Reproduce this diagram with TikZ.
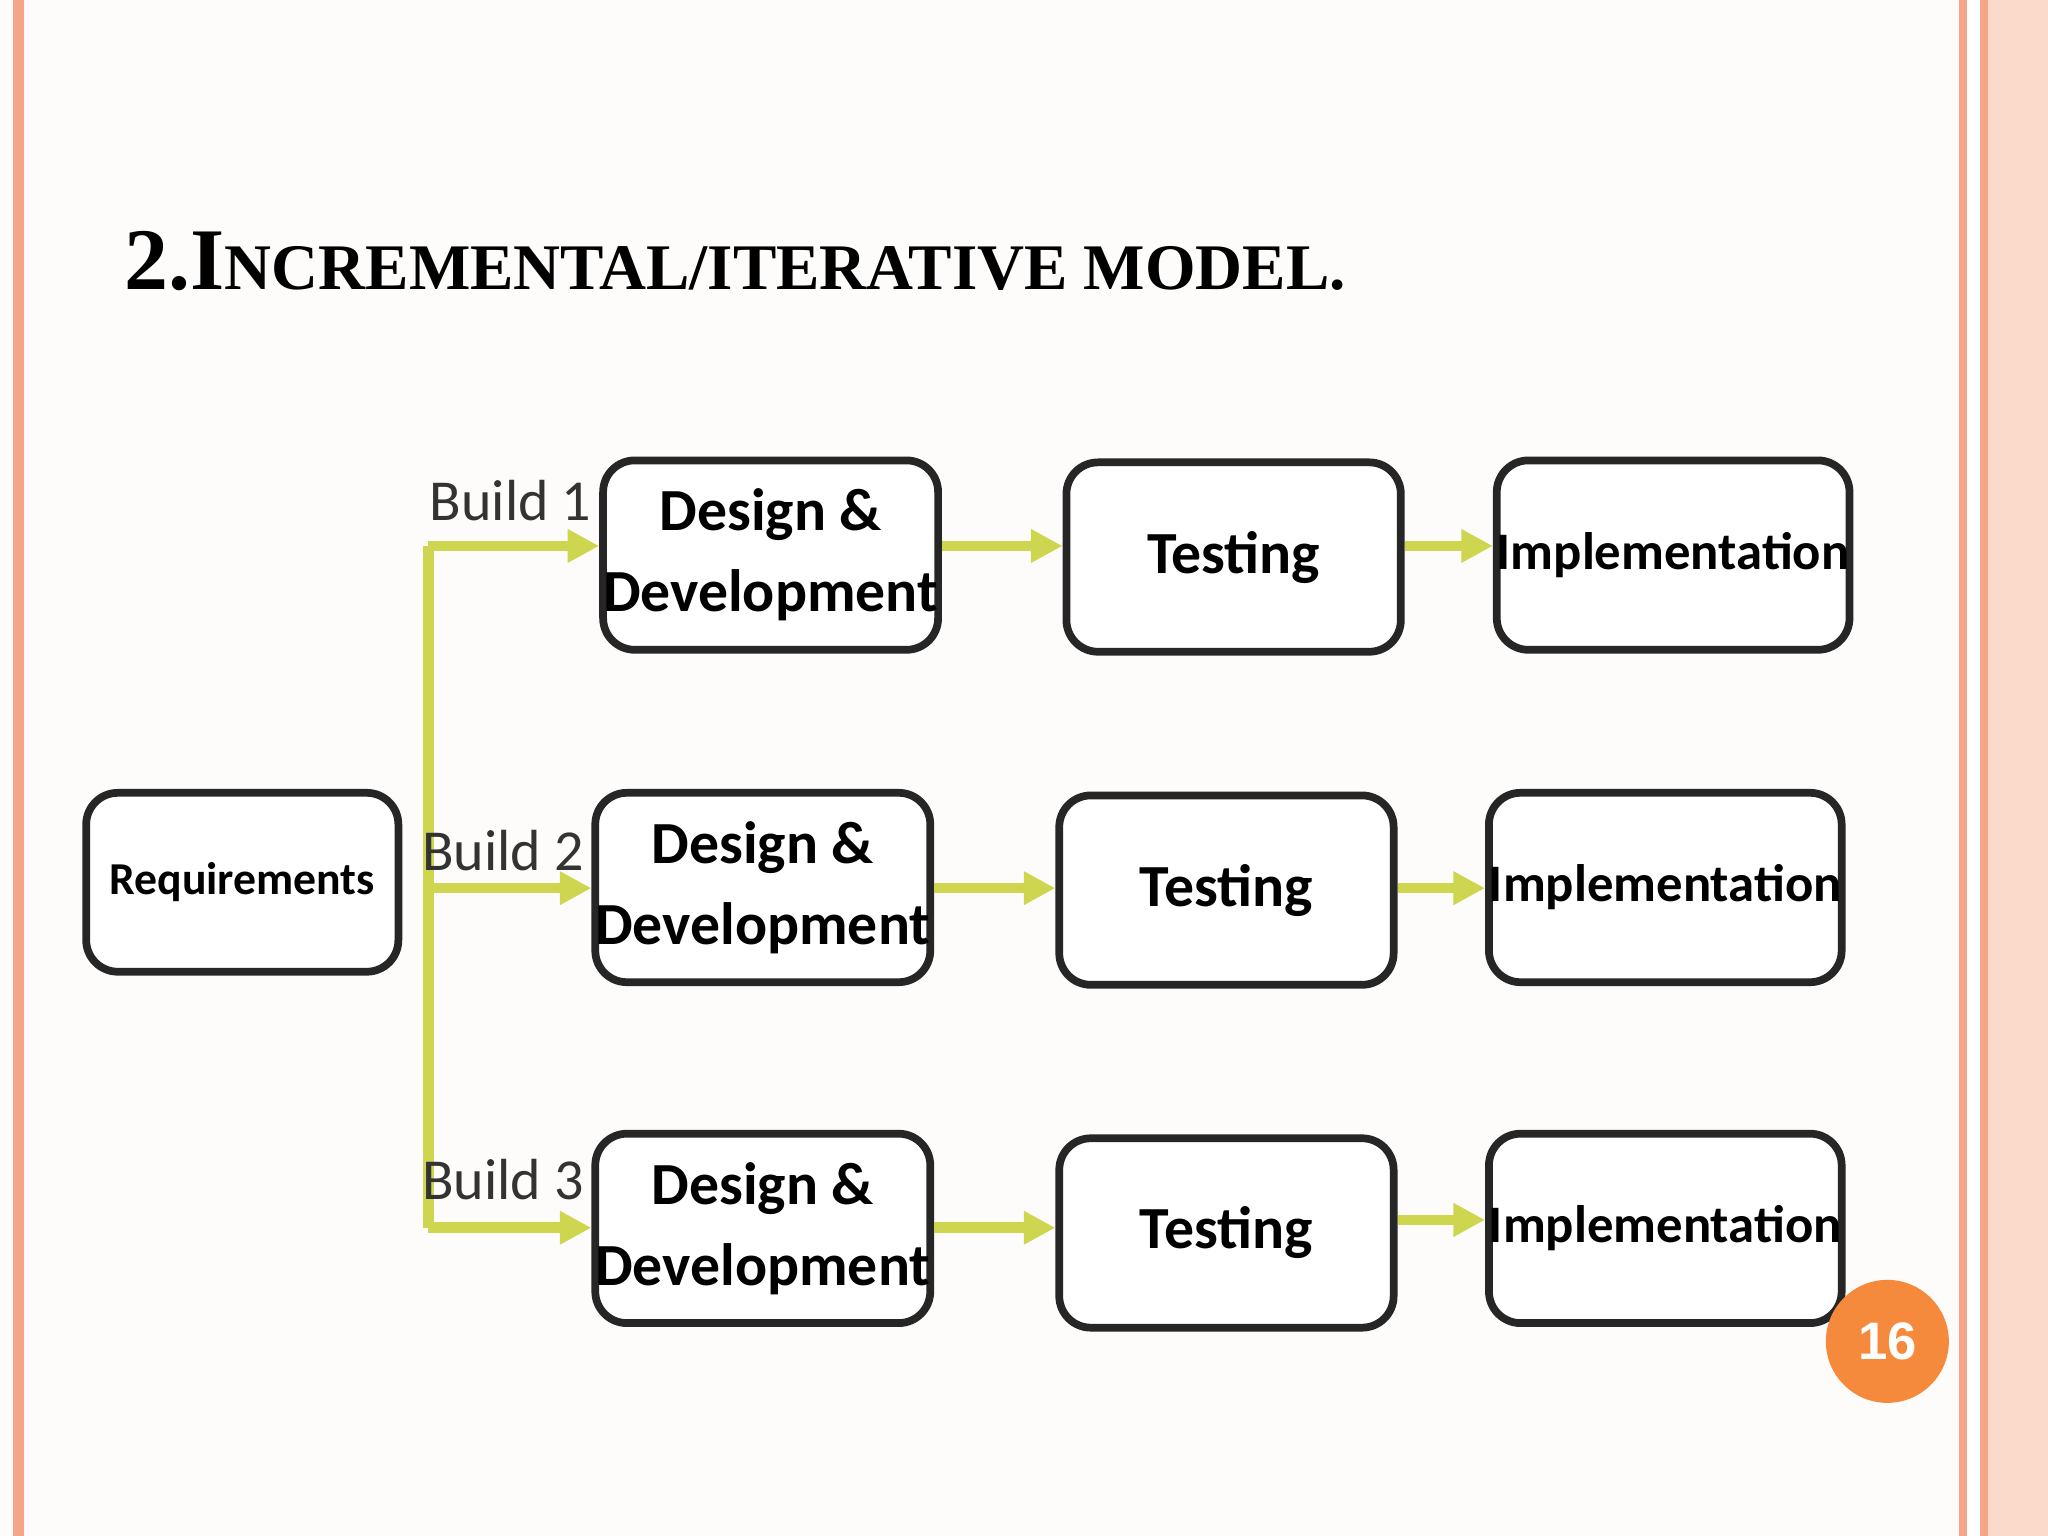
\documentclass[tikz,border=0pt]{standalone}
\usepackage{fontspec}
\setmainfont{Carlito}
\newfontfamily\titlefont{Liberation Serif}
\newfontfamily\numfont{Liberation Sans}
\usetikzlibrary{arrows.meta}
\definecolor{bg}{HTML}{FDFCFA}
\definecolor{pinkb}{HTML}{F4A58A}
\definecolor{pinkl}{HTML}{FBD9CB}
\definecolor{ygreen}{HTML}{CDD64E}
\definecolor{orng}{HTML}{F58A3C}
\tikzset{
  box/.style={draw=black!85, line width=2.2pt, rounded corners=9pt, fill=white, align=center, inner sep=0pt,
    minimum width=3.344cm, minimum height=1.894cm},
  reqbox/.style={box, minimum width=3.122cm, minimum height=1.789cm},
  flow/.style={ygreen, line width=3pt, -{Triangle[length=9pt,width=9pt]}},
  bt/.style={font=\fontsize{17}{23}\selectfont\bfseries},
  it/.style={font=\fontsize{15}{18}\selectfont\bfseries},
  rt/.style={font=\fontsize{13}{16}\selectfont\bfseries},
  bl/.style={font=\fontsize{16.5}{19}\selectfont, text=black!80, inner sep=0pt},
}
\begin{document}
\begin{tikzpicture}[x=0.013061cm,y=-0.013061cm]
\fill[bg] (0,0) rectangle (1568,1176);
\useasboundingbox (0,0) rectangle (1568,1176);
% borders
\fill[pinkb] (10,0) rectangle (18,1176);
\fill[pinkl] (1500,0) rectangle (1568,1176);
\fill[pinkb] (1500,0) rectangle (1506,1176);
\fill[pinkb] (1516,0) rectangle (1522,1176);
\fill[white] (1506,0) rectangle (1516,1176);
% title
\node[anchor=base west, inner sep=0pt] (title) at (95,222)
  {\titlefont\bfseries\fontsize{25}{30}\selectfont 2.I\fontsize{18.5}{22}\selectfont NCREMENTAL/ITERATIVE MODEL.};
% nodes
\node[reqbox, rt] (req) at (185.5,675.5) {Requirements};
\node[box, bt] (d1) at (590,425) {Design \&\\Development};
\node[box, bt] (t1) at (944.5,426.5) {Testing};
\node[box, it] (i1) at (1281,425) {Implementation};
\node[box, bt] (d2) at (584,679.5) {Design \&\\Development};
\node[box, bt] (t2) at (939,681.5) {Testing};
\node[box, it] (i2) at (1275,679.5) {Implementation};
\node[box, bt] (d3) at (584,940.5) {Design \&\\Development};
\node[box, bt] (t3) at (939,944) {Testing};
\node[box, it] (i3) at (1275,940.5) {Implementation};
% trunk
\coordinate (top) at (328,418);
\coordinate (mid) at (328,680);
\coordinate (bot) at (328,940);
\coordinate (bot2) at (328,934);
\draw[ygreen, line width=3pt] (top) -- (bot);
\draw[flow] (top) -- (d1.west|-top);
\draw[flow] (mid) -- (d2.west|-mid);
\draw[flow] (bot) -- (d3.west|-bot);
\draw[flow] (d1.east|-top) -- (t1.west|-top);
\draw[flow] (t1.east|-top) -- (i1.west|-top);
\draw[flow] (d2.east|-mid) -- (t2.west|-mid);
\draw[flow] (t2.east|-mid) -- (i2.west|-mid);
\draw[flow] (d3.east|-bot) -- (t3.west|-bot);
\draw[flow] (t3.east|-bot2) -- (i3.west|-bot2);
% labels
\node[bl] (b1) at (391,383) {Build 1};
\node[bl] (b2) at (385,651) {Build 2};
\node[bl] (b3) at (385,903) {Build 3};
% page number
\node[circle, fill=orng, minimum size=1.23cm, inner sep=0pt, text=white, font=\numfont\bfseries\fontsize{15}{18}\selectfont] (pg) at (1445,1027) {16};
\end{tikzpicture}
\end{document}
